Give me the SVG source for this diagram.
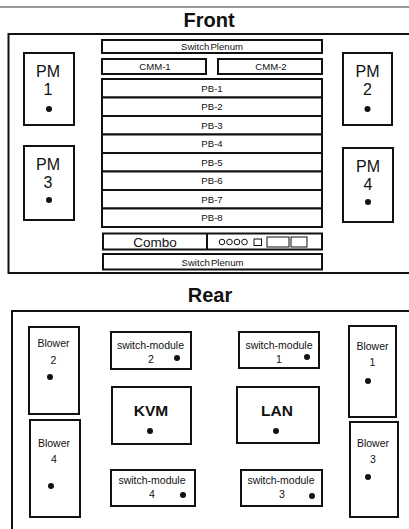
<svg xmlns="http://www.w3.org/2000/svg" width="409" height="529" viewBox="0 0 409 529">
<style>
.b{fill:#fff;stroke:#111;stroke-width:2}
.f{fill:none;stroke:#111;stroke-width:2}
.t{font-family:"Liberation Sans",Arial,sans-serif;fill:#111;text-anchor:middle}
.s{font-size:9.6px}
.r{font-size:10.5px}
.pm{font-size:16px}
.h{font-size:20px;font-weight:bold}
.k{font-size:15.5px;font-weight:bold}
.d{fill:#111}
.th{fill:#fff;stroke:#111;stroke-width:1}
</style>
<rect width="409" height="529" fill="#fff"/>
<line x1="0" y1="7" x2="409" y2="7" stroke="#777" stroke-width="1.5"/>
<text class="t h" x="209" y="26.5">Front</text>
<path class="f" d="M409,34 H8.5 V273 H409"/>
<g id="pm1"><rect class="b" x="24" y="53" width="50" height="72"/><text class="t pm" x="48" y="77">PM</text><text class="t pm" x="48" y="95">1</text><circle class="d" cx="49" cy="109" r="3"/></g>
<g id="pm2"><rect class="b" x="343" y="53" width="49" height="72"/><text class="t pm" x="367.5" y="77">PM</text><text class="t pm" x="367.5" y="95">2</text><circle class="d" cx="367.5" cy="109" r="3"/></g>
<g id="pm3"><rect class="b" x="24" y="146" width="50" height="74"/><text class="t pm" x="48" y="170">PM</text><text class="t pm" x="48" y="188">3</text><circle class="d" cx="49" cy="200" r="3"/></g>
<g id="pm4"><rect class="b" x="343" y="148" width="50" height="74"/><text class="t pm" x="368" y="172">PM</text><text class="t pm" x="368" y="190">4</text><circle class="d" cx="368" cy="202" r="3"/></g>
<g id="plenum-top"><rect class="b" x="102" y="40" width="220" height="13"/><text class="t s" x="212" y="50" word-spacing="-1.5">Switch Plenum</text></g>
<g id="cmm1"><rect class="b" x="102" y="59" width="104" height="15"/><text class="t s" x="155" y="70">CMM-1</text></g>
<g id="cmm2"><rect class="b" x="218" y="59" width="104" height="15"/><text class="t s" x="271" y="70">CMM-2</text></g>
<g id="pb1"><rect class="b" x="102" y="79" width="220" height="18.5"/><text class="t s" x="212" y="91.5">PB-1</text></g>
<g id="pb2"><rect class="b" x="102" y="97.5" width="220" height="18.5"/><text class="t s" x="212" y="110">PB-2</text></g>
<g id="pb3"><rect class="b" x="102" y="116" width="220" height="18.5"/><text class="t s" x="212" y="128.5">PB-3</text></g>
<g id="pb4"><rect class="b" x="102" y="134.5" width="220" height="18.5"/><text class="t s" x="212" y="147">PB-4</text></g>
<g id="pb5"><rect class="b" x="102" y="153" width="220" height="18.5"/><text class="t s" x="212" y="165.5">PB-5</text></g>
<g id="pb6"><rect class="b" x="102" y="171.5" width="220" height="18.5"/><text class="t s" x="212" y="184">PB-6</text></g>
<g id="pb7"><rect class="b" x="102" y="190" width="220" height="18.5"/><text class="t s" x="212" y="202.5">PB-7</text></g>
<g id="pb8"><rect class="b" x="102" y="208.5" width="220" height="18.5"/><text class="t s" x="212" y="221">PB-8</text></g>
<g id="combo"><rect class="b" x="103" y="233.5" width="219" height="16"/><line class="f" x1="207" y1="233.5" x2="207" y2="249.5"/><text class="t" x="155" y="246.5" font-size="13.5">Combo</text>
<circle class="th" cx="222" cy="242" r="2.8"/><circle class="th" cx="229.5" cy="242" r="2.8"/><circle class="th" cx="237" cy="242" r="2.8"/><circle class="th" cx="244.5" cy="242" r="2.8"/><rect class="th" x="254" y="239" width="7.5" height="6.5"/><rect class="th" x="267" y="237" width="22" height="10"/><rect class="th" x="291" y="237" width="16" height="10"/></g>
<g id="plenum-bottom"><rect class="b" x="103" y="254" width="219" height="15.5"/><text class="t s" x="212.5" y="265.5" word-spacing="-1.5">Switch Plenum</text></g>
<text class="t h" x="210" y="302">Rear</text>
<path class="f" d="M12,529 V311 H409"/>
<g id="blower2"><rect class="b" x="29" y="327" width="50" height="87"/><text class="t r" x="53.5" y="347">Blower</text><text class="t r" x="53.5" y="363.5">2</text><circle class="d" cx="50" cy="377" r="3"/></g>
<g id="blower4"><rect class="b" x="30" y="420" width="50" height="97"/><text class="t r" x="54" y="447">Blower</text><text class="t r" x="54" y="462.5">4</text><circle class="d" cx="51" cy="486" r="3"/></g>
<g id="blower1"><rect class="b" x="349" y="326" width="47" height="91"/><text class="t r" x="372.5" y="350">Blower</text><text class="t r" x="372.5" y="365.5">1</text><circle class="d" cx="368" cy="381" r="3"/></g>
<g id="blower3"><rect class="b" x="350" y="422" width="48" height="95"/><text class="t r" x="373" y="447">Blower</text><text class="t r" x="373" y="462.5">3</text><circle class="d" cx="368" cy="477" r="3"/></g>
<g id="sm2"><rect class="b" x="111" y="332" width="80" height="37"/><text class="t r" x="150.5" y="348.5">switch-module</text><text class="t r" x="151" y="363">2</text><circle class="d" cx="177" cy="358" r="3"/></g>
<g id="sm1"><rect class="b" x="239" y="332" width="80" height="36"/><text class="t r" x="279" y="348.5">switch-module</text><text class="t r" x="279" y="363">1</text><circle class="d" cx="307" cy="357" r="3"/></g>
<g id="kvm"><rect class="b" x="112" y="387" width="79" height="57"/><text class="t k" x="151" y="416">KVM</text><circle class="d" cx="150" cy="431" r="3"/></g>
<g id="lan"><rect class="b" x="237" y="387" width="82" height="56"/><text class="t k" x="277" y="416">LAN</text><circle class="d" cx="276" cy="431" r="3"/></g>
<g id="sm4"><rect class="b" x="111" y="470" width="84" height="36"/><text class="t r" x="152" y="484">switch-module</text><text class="t r" x="152" y="498">4</text><circle class="d" cx="183" cy="495" r="3"/></g>
<g id="sm3"><rect class="b" x="241" y="470" width="81" height="36"/><text class="t r" x="281" y="484">switch-module</text><text class="t r" x="282" y="498">3</text><circle class="d" cx="312" cy="496" r="3"/></g>
<g id="connectors"></g>
</svg>
